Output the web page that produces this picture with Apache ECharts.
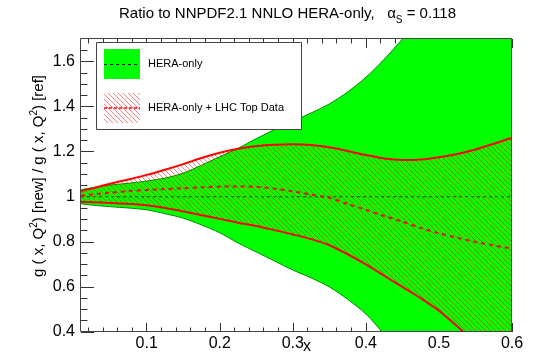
<!DOCTYPE html>
<html><head><meta charset="utf-8">
<script src="https://cdn.jsdelivr.net/npm/echarts@6/dist/echarts.min.js"></script>
<style>html,body{margin:0;padding:0;background:#fff}#c{width:542px;height:361px}</style>
</head><body><div id="c"></div>
<script>
// ---- data ----
const xValues = [0.01,0.025,0.05,0.075,0.1,0.125,0.15,0.175,0.2,0.225,0.25,0.275,0.3,0.325,0.35,0.375,0.4,0.425,0.45,0.475,0.5,0.525,0.55,0.575,0.6];
const heraUpper = [1.030,1.040,1.052,1.060,1.070,1.083,1.105,1.140,1.178,1.215,1.258,1.298,1.335,1.372,1.412,1.465,1.530,1.610,1.700,1.790,1.880,1.970,2.060,2.150,2.240];
const heraLower = [0.970,0.963,0.956,0.950,0.942,0.925,0.905,0.875,0.840,0.795,0.755,0.715,0.675,0.640,0.600,0.545,0.480,0.390,0.300,0.210,0.120,0.030,-0.060,-0.150,-0.240];
const heraCentral = [1,1,1,1,1,1,1,1,1,1,1,1,1,1,1,1,1,1,1,1,1,1,1,1,1];
const topUpper = [1.025,1.037,1.058,1.077,1.097,1.120,1.145,1.172,1.195,1.213,1.225,1.231,1.233,1.230,1.220,1.203,1.185,1.170,1.163,1.165,1.175,1.190,1.210,1.235,1.262];
const topLower = [0.978,0.976,0.972,0.968,0.962,0.950,0.935,0.918,0.902,0.885,0.870,0.852,0.833,0.812,0.785,0.745,0.700,0.650,0.600,0.550,0.495,0.425,0.350,0.270,0.190];
const topCentral = [1.005,1.010,1.018,1.025,1.030,1.034,1.038,1.042,1.045,1.046,1.044,1.036,1.024,1.010,0.995,0.968,0.942,0.915,0.890,0.862,0.838,0.818,0.800,0.784,0.770];

const xMajorTicks = [0.1,0.2,0.3,0.4,0.5,0.6];
const xMinorTicks = [0.02,0.04,0.06,0.08,0.12,0.14,0.16,0.18,0.22,0.24,0.26,0.28,0.32,0.34,0.36,0.38,0.42,0.44,0.46,0.48,0.52,0.54,0.56,0.58];
const yMajorTicks = [0.4,0.6,0.8,1.0,1.2,1.4,1.6];
const yMinorTicks = [0.45,0.5,0.55,0.65,0.7,0.75,0.85,0.9,0.95,1.05,1.1,1.15,1.25,1.3,1.35,1.45,1.5,1.55,1.65];

const titleText = '{a|Ratio to NNPDF2.1 NNLO HERA-only,   α}{s|S}{a| = 0.118}';
const yTitle = '{a|g ( x, Q}{p|2}{a|) [new] / g ( x, Q}{p|2}{a|) [ref]}';
const legendNames = ['HERA-only', 'HERA-only + LHC Top Data'];

// ---- helpers ----
function hatchCanvas() {
  const s = 5, c = document.createElement('canvas');
  c.width = s; c.height = s;
  const g = c.getContext('2d');
  g.strokeStyle = 'rgba(255,0,0,0.5)';
  g.lineWidth = 1;
  g.beginPath();
  g.moveTo(-1, -1); g.lineTo(s + 1, s + 1);
  g.moveTo(-1, s - 1); g.lineTo(1, s + 1);
  g.moveTo(s - 1, -1); g.lineTo(s + 1, 1);
  g.stroke();
  return c;
}
const hatch = hatchCanvas();
const FONT = 'Liberation Sans, Arial, Helvetica, sans-serif';
const G = {left: 81, top: 39, right: 30, bottom: 29};
const GW = 542 - G.left - G.right, GH = 361 - G.top - G.bottom;
const SMOOTH = 0.3;

const tickStyle = {color: '#333', width: 1};
function xAx(pos, ticks, len, labels) {
  return {
    type: 'value', position: pos, min: 0.01, max: 0.6,
    splitLine: {show: false}, axisLine: {show: false},
    axisTick: {show: true, inside: true, length: len, customValues: ticks, lineStyle: tickStyle},
    axisLabel: labels ? {customValues: ticks, fontSize: 16, color: '#000', margin: 4, fontFamily: FONT} : {show: false}
  };
}
function yAx(ticks, len, labels) {
  return {
    type: 'value', position: 'left', min: 0.4, max: 1.7,
    splitLine: {show: false}, axisLine: {show: false},
    axisTick: {show: true, inside: true, length: len, customValues: ticks, lineStyle: tickStyle},
    axisLabel: labels ? {customValues: ticks, fontSize: 16, color: '#000', margin: 6, fontFamily: FONT} : {show: false}
  };
}

// band: polygon between lower and upper arrays, mapped through the axes
function bandSeries(name, lower, upper, fill, z) {
  return {
    type: 'custom', name: name, clip: true, z: z,
    data: xValues.map((x, i) => [x, lower[i], upper[i]]),
    encode: {x: 0, y: [1, 2]},
    renderItem: function (params, api) {
      if (params.dataIndex !== 0) return null;
      const up = xValues.map((x, i) => api.coord([x, upper[i]]));
      const lo = xValues.map((x, i) => api.coord([x, lower[i]])).reverse();
      return {type: 'polygon', shape: {points: up.concat(lo), smooth: SMOOTH}, style: {fill: fill, stroke: null}};
    }
  };
}
function curveSeries(ys, style, z) {
  return {
    type: 'custom', clip: true, z: z,
    data: xValues.map((x, i) => [x, ys[i]]),
    encode: {x: 0, y: 1},
    renderItem: function (params, api) {
      if (params.dataIndex !== 0) return null;
      const p = xValues.map((x, i) => api.coord([x, ys[i]]));
      return {type: 'polyline', shape: {points: p, smooth: SMOOTH}, style: Object.assign({fill: null}, style)};
    }
  };
}

const chart = echarts.init(document.getElementById('c'), null, {renderer: 'canvas'});
chart.setOption({
  animation: false,
  title: {
    text: titleText, left: 119, top: 3, padding: 0,
    textStyle: {rich: {
      a: {fontSize: 15, fontWeight: 'normal', fontFamily: FONT, color: '#000', lineHeight: 22},
      s: {fontSize: 10, fontWeight: 'normal', fontFamily: FONT, color: '#000', lineHeight: 12, verticalAlign: 'bottom'}
    }}
  },
  grid: {left: G.left, top: G.top, right: G.right, bottom: G.bottom, containLabel: false},
  xAxis: [xAx('bottom', xMajorTicks, 9, true), xAx('bottom', xMinorTicks, 4.5, false),
          xAx('top', xMajorTicks, 9, false), xAx('top', xMinorTicks, 4.5, false)],
  yAxis: [yAx(yMajorTicks, 13, true), yAx(yMinorTicks, 6.5, false)],
  series: [
    bandSeries(legendNames[0], heraLower, heraUpper, '#00ff00', 2),
    curveSeries(heraUpper, {stroke: '#008a00', lineWidth: 1}, 3),
    curveSeries(heraLower, {stroke: '#008a00', lineWidth: 1}, 3),
    bandSeries(legendNames[1], topLower, topUpper, {image: hatch, repeat: 'repeat'}, 4),
    curveSeries(heraCentral, {stroke: '#1f3a1f', lineWidth: 1, lineDash: [3, 3]}, 5),
    curveSeries(topUpper, {stroke: '#ff0000', lineWidth: 2}, 6),
    curveSeries(topLower, {stroke: '#ff0000', lineWidth: 2}, 6),
    curveSeries(topCentral, {stroke: '#ff0000', lineWidth: 2, lineDash: [4, 4]}, 6)
  ],
  graphic: [
    {type: 'rect', z: 100, shape: {x: G.left - 0.5, y: G.top - 0.5, width: GW, height: GH}, style: {fill: null, stroke: '#444', lineWidth: 1}},
    {type: 'text', z: 100, x: 307, y: 347, style: {text: 'x', font: '16px ' + FONT, fill: '#000', align: 'center', verticalAlign: 'middle'}},
    {type: 'text', z: 100, x: 39, y: 176, rotation: Math.PI / 2, style: {
      text: yTitle, align: 'center', verticalAlign: 'middle',
      rich: {
        a: {fontSize: 15, fontFamily: FONT, fill: '#000', lineHeight: 20},
        p: {fontSize: 10, fontFamily: FONT, fill: '#000', lineHeight: 10, verticalAlign: 'top'}
      }}},
    // legend box
    {type: 'rect', z: 100, shape: {x: 96.5, y: 42.5, width: 205, height: 87}, style: {fill: '#fff', stroke: '#444', lineWidth: 1}},
    {type: 'rect', z: 101, shape: {x: 104, y: 49, width: 36, height: 30}, style: {fill: '#00ff00'}},
    {type: 'line', z: 102, shape: {x1: 104, y1: 64.5, x2: 140, y2: 64.5}, style: {stroke: '#000', lineWidth: 1, lineDash: [3, 3]}},
    {type: 'rect', z: 101, shape: {x: 104, y: 93, width: 36, height: 30}, style: {fill: {image: hatch, repeat: 'repeat'}}},
    {type: 'line', z: 102, shape: {x1: 104, y1: 108, x2: 140, y2: 108}, style: {stroke: '#ff0000', lineWidth: 1.5, lineDash: [3, 2]}},
    {type: 'text', z: 102, x: 148, y: 64, style: {text: legendNames[0], font: '11px ' + FONT, fill: '#000', verticalAlign: 'middle'}},
    {type: 'text', z: 102, x: 148, y: 108, style: {text: legendNames[1], font: '11px ' + FONT, fill: '#000', verticalAlign: 'middle'}}
  ]
});
</script>
</body></html>
